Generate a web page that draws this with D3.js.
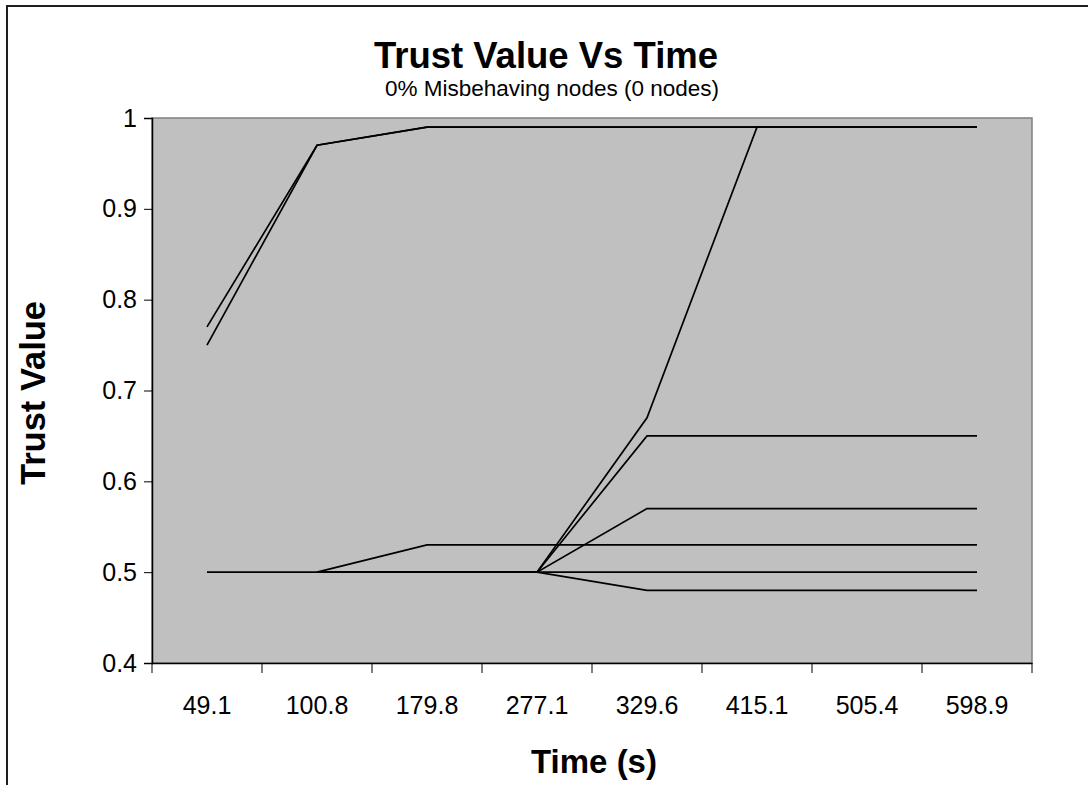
<!DOCTYPE html>
<html>
<head>
<meta charset="utf-8">
<script src="https://cdn.jsdelivr.net/npm/d3@7"></script>
<style>
  html, body { margin: 0; padding: 0; background: #fff; }
  svg { display: block; font-family: "Liberation Sans", Arial, sans-serif; }
</style>
</head>
<body>
<svg id="chart" width="1088" height="785"></svg>
<script>
const categories = ["49.1", "100.8", "179.8", "277.1", "329.6", "415.1", "505.4", "598.9"];
const series1 = [0.77, 0.97, 0.99, 0.99, 0.99, 0.99, 0.99, 0.99];
const series2 = [0.75, 0.97, 0.99, 0.99, 0.99, 0.99, 0.99, 0.99];
const series3 = [null, 0.50, 0.50, 0.50, 0.67, 0.99, 0.99, 0.99];
const series4 = [null, 0.50, 0.50, 0.50, 0.65, 0.65, 0.65, 0.65];
const series5 = [null, 0.50, 0.50, 0.50, 0.57, 0.57, 0.57, 0.57];
const series6 = [null, 0.50, 0.53, 0.53, 0.53, 0.53, 0.53, 0.53];
const series7 = [0.50, 0.50, 0.50, 0.50, 0.50, 0.50, 0.50, 0.50];
const series8 = [null, 0.50, 0.50, 0.50, 0.48, 0.48, 0.48, 0.48];
const allSeries = [series1, series2, series3, series4, series5, series6, series7, series8];
const yTicks = [0.4, 0.5, 0.6, 0.7, 0.8, 0.9, 1];
const yTickLabels = ["0.4", "0.5", "0.6", "0.7", "0.8", "0.9", "1"];
const titleText = "Trust Value Vs Time";
const subtitleText = "0% Misbehaving nodes (0 nodes)";
const xTitle = "Time (s)";
const yTitle = "Trust Value";

const svg = d3.select("#chart");
const L = 152, R = 1032, T = 118, B = 663;

// outer border
svg.append("rect").attr("x", 7).attr("y", 6).attr("width", 1200).attr("height", 900)
  .attr("fill", "none").attr("stroke", "#1e1e1e").attr("stroke-width", 2);

const x = d3.scaleBand().domain(categories).range([L, R]).paddingInner(0).paddingOuter(0);
const y = d3.scaleLinear().domain([0.4, 1]).range([B, T]);

// plot area
svg.append("rect").attr("x", L).attr("y", T).attr("width", R - L).attr("height", B - T)
  .attr("fill", "#c0c0c0").attr("stroke", "#808080").attr("stroke-width", 1.5);

// lines
const line = d3.line()
  .defined(d => d != null)
  .x((d, i) => x(categories[i]) + x.bandwidth() / 2)
  .y(d => y(d));
svg.append("g").selectAll("path").data(allSeries).join("path")
  .attr("d", line).attr("fill", "none").attr("stroke", "#000").attr("stroke-width", 1.7);

// y axis
const yAxis = d3.axisLeft(y).tickValues(yTicks).tickFormat((d, i) => yTickLabels[i])
  .tickSize(8).tickPadding(7);
const gy = svg.append("g").attr("transform", `translate(${L},0)`).call(yAxis);
gy.select(".domain").attr("stroke", "#000").attr("stroke-width", 1.5);
gy.selectAll(".tick line").attr("stroke", "#000").attr("stroke-width", 1);
gy.selectAll(".tick text").attr("font-size", 25).attr("fill", "#000")
  .attr("font-family", "'Liberation Sans', Arial, sans-serif");

// x axis
const xAxis = d3.axisBottom(x).tickSize(0).tickPadding(40);
const gx = svg.append("g").attr("transform", `translate(0,${B})`).call(xAxis);
gx.select(".domain").attr("stroke", "#000").attr("stroke-width", 1.5);
gx.selectAll(".tick text").attr("font-size", 25).attr("fill", "#000")
  .attr("font-family", "'Liberation Sans', Arial, sans-serif").attr("dy", 0).attr("y", 51);
// category boundary ticks
const bounds = categories.map(c => x(c)).concat([x(categories[categories.length - 1]) + x.bandwidth()]);
gx.selectAll(".bound").data(bounds).join("line").attr("class", "bound")
  .attr("x1", d => d).attr("x2", d => d).attr("y1", 0).attr("y2", 10)
  .attr("stroke", "#000").attr("stroke-width", 1);

// titles
svg.append("text").attr("x", 546).attr("y", 68).attr("text-anchor", "middle")
  .attr("font-size", 36.5).attr("font-weight", "bold").text(titleText);
svg.append("text").attr("x", 552).attr("y", 96).attr("text-anchor", "middle")
  .attr("font-size", 22.5).text(subtitleText);
svg.append("text").attr("x", 594).attr("y", 773).attr("text-anchor", "middle")
  .attr("font-size", 33).attr("font-weight", "bold").text(xTitle);
svg.append("text").attr("transform", "translate(45,393) rotate(-90)").attr("text-anchor", "middle")
  .attr("font-size", 34.5).attr("font-weight", "bold").text(yTitle);
</script>
</body>
</html>
